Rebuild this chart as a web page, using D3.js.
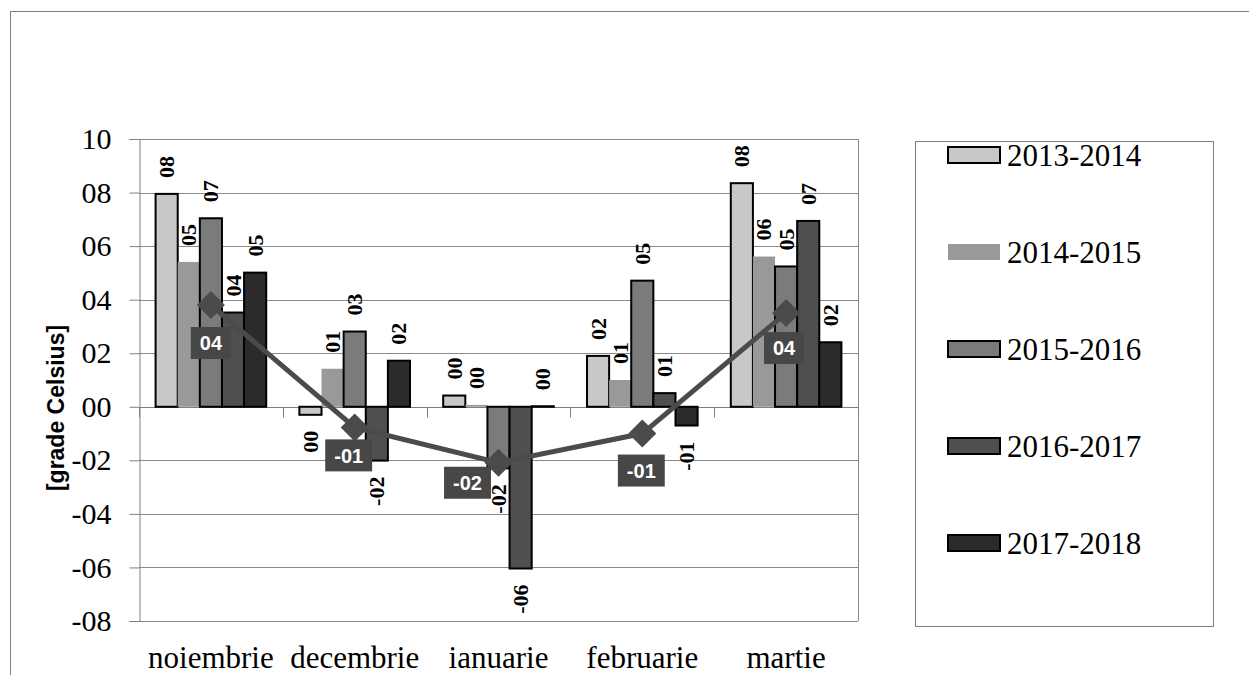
<!DOCTYPE html>
<html><head><meta charset="utf-8">
<script src="https://cdn.jsdelivr.net/npm/d3@7"></script>
<style>
body{margin:0;background:#fff}
.serif{font-family:"Liberation Serif",Tinos,"Times New Roman",Times,"Nimbus Roman","Nimbus Roman No9 L","FreeSerif","Noto Serif","DejaVu Serif",Georgia,serif}
.sans{font-family:"Liberation Sans",Arial,Helvetica,sans-serif}
</style>
</head><body>
<svg id="c" width="1249" height="675"></svg>
<script>
// ---- data ----
const categories = ["noiembrie","decembrie","ianuarie","februarie","martie"];
const seriesNames = ["2013-2014","2014-2015","2015-2016","2016-2017","2017-2018"];
const s2013 = [7.95, -0.3, 0.42, 1.9, 8.35];
const s2014 = [5.41, 1.42, 0.07, 1.0, 5.61];
const s2015 = [7.04, 2.81, -2.3, 4.71, 5.24];
const s2016 = [3.52, -2.01, -6.04, 0.51, 6.94];
const s2017 = [5.01, 1.72, 0.02, -0.7, 2.41];
const lineValues = [3.8, -0.77, -2.09, -1.0, 3.5];
const yTicks = [10, 8, 6, 4, 2, 0, -2, -4, -6, -8];

// ---- style / layout ----
const seriesValues = [s2013, s2014, s2015, s2016, s2017];
const fills = ["#c8c8c8", "#999999", "#7b7b7b", "#4f4f4f", "#2b2b2b"];
const strokes = ["#000", "none", "#000", "#000", "#000"];
const lineColor = "#4b4b4b";
const labelNudge = [[0,38],[-6,28],[-31,20],[-1,37],[-2,35]];
const L = 139, R = 858, T = 139, B = 621;

const fmt = v => { const r = Math.round(v); return (r < 0 ? "-" : "") + String(Math.abs(r)).padStart(2, "0"); };

const svg = d3.select("#c");
svg.append("rect").attr("x", 10.5).attr("y", 11.5).attr("width", 1300).attr("height", 700)
  .attr("fill", "none").attr("stroke", "#808080");

const y = d3.scaleLinear().domain([-8, 10]).range([B, T]);
const x0 = d3.scaleBand().domain(categories).range([L, R]).padding(0);
const x1 = d3.scaleBand().domain(seriesNames).range([0, x0.bandwidth()]).paddingInner(0).paddingOuter(0.75);

// gridlines
svg.append("g").selectAll("line").data(yTicks).join("line")
  .attr("x1", L).attr("x2", R).attr("y1", d => Math.round(y(d)) + 0.5).attr("y2", d => Math.round(y(d)) + 0.5)
  .attr("stroke", "#8a8a8a").attr("stroke-width", 1);
svg.append("line").attr("x1", R + 0.5).attr("x2", R + 0.5).attr("y1", T).attr("y2", B).attr("stroke", "#8a8a8a");

// y axis
const yAxis = d3.axisLeft(y).tickValues(yTicks).tickSize(10).tickPadding(18).tickFormat(fmt);
const gy = svg.append("g").attr("transform", `translate(${L + 0.5},0)`).call(yAxis)
  .attr("font-family", null).attr("font-size", null);
gy.select(".domain").attr("stroke", "#808080");
gy.selectAll(".tick line").attr("stroke", "#808080");
gy.selectAll(".tick text").attr("class", "serif").style("font-size", "30px").attr("fill", "#000");

// x axis at zero with ticks at boundaries
const gx = svg.append("g").attr("transform", `translate(0,${Math.round(y(0)) + 0.5})`);
gx.append("line").attr("x1", L).attr("x2", R).attr("stroke", "#808080");
gx.selectAll("line.t").data(d3.range(categories.length + 1)).join("line").attr("class", "t")
  .attr("x1", i => Math.round(L + i * x0.step()) + 0.5).attr("x2", i => Math.round(L + i * x0.step()) + 0.5)
  .attr("y1", 0).attr("y2", 10).attr("stroke", "#808080");

// category labels
svg.append("g").selectAll("text").data(categories).join("text").attr("class", "serif")
  .attr("x", d => x0(d) + x0.bandwidth() / 2).attr("y", 668)
  .attr("text-anchor", "middle").style("font-size", "31px").text(d => d);

// bars
const bars = [];
seriesNames.forEach((s, si) => categories.forEach((c, ci) => bars.push({ s, si, c, v: seriesValues[si][ci] })));
svg.append("g").selectAll("rect").data(bars).join("rect")
  .attr("x", d => x0(d.c) + x1(d.s)).attr("width", x1.bandwidth())
  .attr("y", d => y(Math.max(0, d.v))).attr("height", d => Math.abs(y(d.v) - y(0)))
  .attr("fill", d => fills[d.si]).attr("stroke", d => strokes[d.si]).attr("stroke-width", 2);

// bar labels
svg.append("g").selectAll("text").data(bars).join("text").attr("class", "serif")
  .attr("transform", d => `translate(${x0(d.c) + x1(d.s) + x1.bandwidth() / 2},${d.v >= 0 ? y(d.v) - 16 : y(d.v) + 16}) rotate(-90)`)
  .attr("text-anchor", d => d.v >= 0 ? "start" : "end").attr("dominant-baseline", "central")
  .style("font-weight", "bold").style("font-size", "22px").text(d => fmt(d.v));

// line
const cx = c => x0(c) + x0.bandwidth() / 2;
const pts = categories.map((c, i) => ({ c, i, v: lineValues[i] }));
svg.append("path").datum(pts)
  .attr("d", d3.line().x(d => cx(d.c)).y(d => y(d.v)))
  .attr("fill", "none").attr("stroke", lineColor).attr("stroke-width", 5);
svg.append("g").selectAll("path").data(pts).join("path")
  .attr("transform", d => `translate(${cx(d.c)},${y(d.v)})`)
  .attr("d", "M0,-14L14,0L0,14L-14,0Z").attr("fill", lineColor);

// line labels
const lg = svg.append("g").selectAll("g").data(pts).join("g")
  .attr("transform", d => `translate(${cx(d.c) + labelNudge[d.i][0]},${y(d.v) + labelNudge[d.i][1]})`);
lg.append("rect").attr("fill", "#474747");
lg.append("text").attr("class", "sans").attr("text-anchor", "middle").attr("dy", "0.36em")
  .style("font-weight", "bold").style("font-size", "20px").attr("fill", "#fff")
  .text(d => fmt(d.v));
lg.each(function () {
  const g = d3.select(this); const w = g.select("text").node().getComputedTextLength() + 18;
  g.select("rect").attr("x", -w / 2).attr("y", -16).attr("width", w).attr("height", 32);
});

// y title
svg.append("text").attr("class", "sans").attr("transform", "translate(56,408) rotate(-90)").attr("text-anchor", "middle")
  .attr("dominant-baseline", "central").style("font-weight", "bold").style("font-size", "23px")
  .text("[grade Celsius]");

// legend
svg.append("rect").attr("x", 915.5).attr("y", 141.5).attr("width", 298).attr("height", 485)
  .attr("fill", "none").attr("stroke", "#808080");
const li = svg.append("g").selectAll("g").data(seriesNames).join("g")
  .attr("transform", (d, i) => `translate(948,${155 + i * 97})`);
li.append("rect").attr("x", 0).attr("y", -8).attr("width", 52).attr("height", 16)
  .attr("fill", (d, i) => fills[i]).attr("stroke", (d, i) => strokes[i]).attr("stroke-width", 2);
li.append("text").attr("class", "serif").attr("x", 59).attr("dy", "0.34em").style("font-size", "31px").text(d => d);
</script>
</body></html>
